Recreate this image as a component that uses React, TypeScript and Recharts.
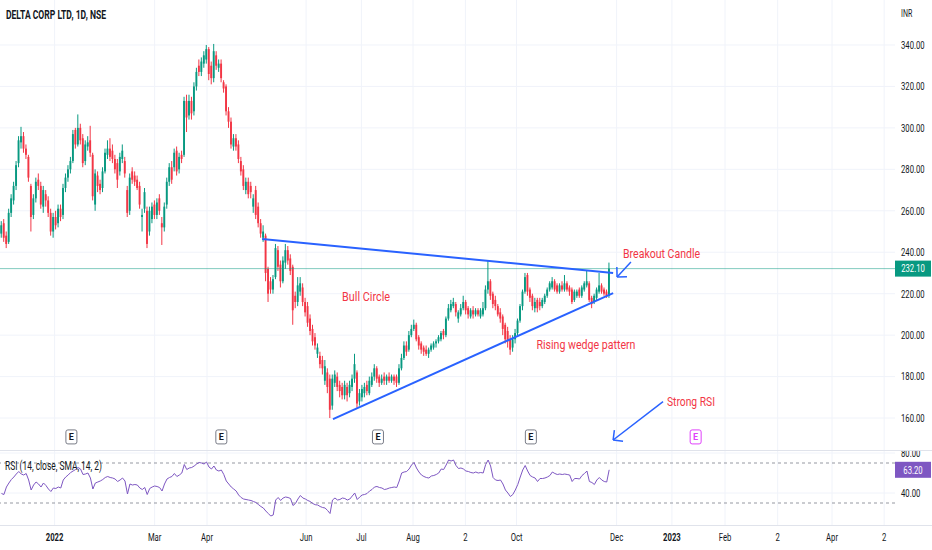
import React from 'react';
import {
  ComposedChart, LineChart, Bar, Line, XAxis, YAxis, CartesianGrid,
  ReferenceLine, ReferenceDot,
} from 'recharts';

// daily candles, [open, high, low, close]
const candles: [number, number, number, number][] = [
  [249, 255, 247, 253], [254, 256, 245, 247], [248, 250, 242, 244], [245, 261, 244, 259], [259, 268, 257, 266],
  [265, 274, 263, 272], [272, 284, 270, 282], [283, 296, 281, 294], [293, 300.5, 290, 296], [296, 298, 288, 290],
  [290, 292, 285, 287], [286, 287, 274, 276], [272, 273, 250, 257], [258, 268, 256, 266], [266, 276, 264, 274],
  [275, 278, 270, 272], [272, 274, 261, 263], [262, 272, 259, 270], [268, 270, 262, 265], [265, 267, 257, 259],
  [259, 261, 248, 250], [250, 259, 247, 257], [257, 260, 251, 253], [254, 263, 252, 261], [261, 263, 255, 257],
  [258, 273, 256, 271], [271, 278, 269, 276], [276, 282, 274, 280], [280, 286, 278, 284], [284, 299, 283, 297],
  [299, 300, 290, 292], [292, 306.5, 291, 300], [300, 302, 292, 294], [295, 297, 281, 283], [284, 294, 282, 292],
  [291, 296, 289, 293], [294, 301, 286, 288], [287, 288, 265, 267], [263, 280, 260, 278], [277, 279, 269, 272],
  [273, 275, 268, 270], [271, 281, 269, 279], [279, 290, 278, 288], [287, 294, 285, 290], [290, 295, 284, 286],
  [289, 292, 283, 285], [285, 287, 278, 280], [283, 285, 271, 275], [279, 288, 277, 286], [285, 292, 283, 289],
  [284, 286, 276, 278], [270, 272, 257, 259], [260, 278, 258, 276], [279, 281, 273, 275], [277, 279, 272, 274],
  [275, 277, 270, 271], [272, 274, 261, 263], [257, 261, 250, 258], [261, 271, 259, 269], [260, 262, 242, 244],
  [250, 262, 248, 260], [256, 264, 254, 262], [263, 265, 256, 258], [258, 266, 256, 264], [266, 268, 258, 260],
  [254, 257, 243.5, 252], [252, 264, 250, 262], [263, 276, 261, 274], [274, 283, 272, 281], [281, 284, 273, 275],
  [281, 290, 279, 288], [289, 291, 277, 279], [280, 288, 278, 286], [287, 289, 283, 285], [287, 315, 286, 313],
  [313, 316, 298, 305], [306, 316, 304, 313], [313, 315, 304, 307], [308, 322, 306, 320], [320, 329, 318, 327],
  [330, 333, 325, 327], [327, 334, 325, 332], [331, 337, 329, 335], [333, 340, 331, 338], [338, 339, 323, 326],
  [330, 332, 321, 324], [324, 340.5, 322, 337], [335, 337, 328, 330], [329, 333, 327, 331], [331, 333, 322, 324],
  [322, 323, 317, 319], [320, 321, 306, 308], [308, 310, 300, 303], [303, 305, 290, 292], [291, 297, 289, 295],
  [295, 297, 289, 291], [292, 294, 283, 285], [284, 286, 277, 279], [280, 282, 270, 272], [270, 276, 268, 274],
  [274, 276, 266, 268], [272, 274, 266, 269], [262, 268, 259, 266], [270, 272, 256, 258], [262, 264, 252, 254],
  [254, 256, 247, 249], [247, 253, 245, 250], [248, 249, 226, 230], [232, 233, 216, 220], [226, 228, 220, 222],
  [222, 229, 220, 227], [228, 244, 227, 242], [241, 243, 231, 233], [234, 236, 223, 226], [226, 238, 225, 236],
  [235, 244, 232, 241], [241, 243, 234, 236], [237, 239, 229, 231], [233, 234, 205, 212], [219, 221, 213, 216],
  [216, 228, 214, 224], [221, 228, 219, 225], [223, 225, 214, 216], [216, 218, 209, 211], [214, 216, 204, 206],
  [208, 210, 200, 202], [203, 205, 195, 197], [199, 201, 193, 195], [191, 196, 189, 194], [190, 192, 184, 186],
  [188, 190, 181, 184], [178, 188, 176, 185], [182, 184, 172, 175], [179, 181, 160, 164], [166, 181, 164, 179],
  [177, 183, 175, 181], [180, 182, 173, 175], [176, 178, 170, 173], [175, 177, 169, 171], [171, 178, 169, 176],
  [175, 177, 168, 171], [172, 178, 170, 176], [175, 181, 173, 179], [179, 191, 177, 186], [182, 183, 165, 167],
  [168, 174, 166, 172], [170, 176, 168, 174], [172, 177, 170, 175], [176, 178, 171, 173], [172, 180, 171, 178],
  [176, 182, 175, 180], [180, 186, 178, 184], [184, 185, 177, 179], [180, 181, 175, 177], [177, 181, 176, 179],
  [180, 182, 176, 178], [178, 181, 176, 180], [180, 182, 177, 178], [178, 181, 177, 180], [180, 181, 176, 178],
  [180, 181, 175, 177], [177, 186, 176, 184], [184, 191, 183, 189], [189, 197, 188, 195], [195, 197, 190, 192],
  [193, 202, 192, 200], [200, 205, 199, 203], [203, 207.5, 202, 205], [205, 206, 197, 198], [199, 200, 193, 195],
  [196, 197, 191, 193], [194, 195, 190, 192], [193, 195, 190, 191], [191, 194, 189, 193], [193, 196, 192, 195],
  [194, 197, 193, 196], [196, 198, 194, 197], [197, 200, 196, 199], [198, 202, 197, 201], [202, 203, 198, 200],
  [200, 209, 199, 208], [208, 215, 207, 213], [212, 217, 211, 215], [214, 218, 213, 216], [215, 216, 209, 211],
  [208, 212, 206, 211], [210, 215, 209, 213], [213, 219, 212, 216], [216, 217, 210, 212], [213, 214, 208, 210],
  [209, 213, 208, 212], [212, 214, 208, 210], [210, 213, 209, 212], [212, 213, 209, 210], [209, 213, 208, 212],
  [210, 216, 209, 213], [213, 224, 212, 222], [222, 236, 220, 226], [226, 227, 217, 219], [220, 221, 213, 215],
  [217, 219, 212, 214], [214, 215, 209, 210], [211, 213, 206, 208], [209, 210, 200, 203], [205, 206, 196, 198],
  [202, 204, 194, 197], [198, 200, 190.5, 193], [194, 200, 192, 198], [198, 203, 196, 201], [201, 208, 200, 207],
  [207, 215, 206, 214], [214, 222, 212, 221], [221, 230, 220, 228], [229, 230, 219, 221], [222, 223, 216, 218],
  [219, 220, 212, 214], [213, 218, 211, 216], [217, 218, 211, 213], [216, 218, 212, 214], [214, 218, 213, 217],
  [216, 220, 215, 219], [219, 223, 218, 222], [222, 226, 221, 225], [223, 228, 222, 226], [226, 227, 221, 222],
  [224, 225, 220, 221], [221, 225, 220, 224], [224, 226, 221, 222], [222, 229, 221, 225], [225, 226, 221, 222],
  [223, 224, 219, 221], [222, 223, 215, 216], [217, 222, 216, 221], [219, 222, 218, 221], [222, 223, 218, 219],
  [219, 224, 218, 223], [222, 226, 221, 225], [224, 231, 223, 226], [225, 226, 216, 217], [218, 219, 213, 215],
  [216, 220, 215, 219], [218, 223, 217, 222], [221, 230, 220, 224], [224, 225, 220, 221], [222, 223, 219, 220],
  [221, 222, 218, 219], [219, 235, 218, 232.1],
];

const rsiValues = [
  39.5, 38.5, 46, 50, 53.5, 56, 59, 61.5, 59, 58,
  59.5, 53, 43, 48, 51, 49, 46, 50, 47.5, 44,
  41.5, 45, 44.5, 46, 45, 53, 56, 58, 60.5, 62,
  63.5, 65.5, 64, 58.5, 59, 60, 55, 44, 50, 51,
  52, 53.5, 55.5, 56.5, 55.5, 55, 54, 51.5, 53, 55,
  52, 39, 49, 48, 48.5, 48, 45, 43.5, 45.5, 38.5,
  44.5, 46, 47, 46.5, 45.5, 42, 49, 54, 55.5, 56.5,
  59.5, 56.5, 58, 60, 68.5, 63.5, 65, 65.5, 67, 69,
  70.5, 70, 69, 71, 66, 64, 67, 63, 62, 63,
  58.5, 52, 49, 46, 44, 42, 38, 35.5, 34, 33.5,
  33, 32.5, 31.5, 30.5, 28.5, 26.5, 25, 22, 19.5, 17,
  18, 33, 35.5, 32.5, 35, 36, 35.5, 34.5, 27.5, 29.5,
  34, 37.5, 35, 34, 32.5, 31.5, 29.5, 28.3, 28, 26.5,
  25.5, 25, 22.5, 19.5, 33, 35, 33, 33.5, 35, 34.5,
  33, 34, 37, 40, 33.5, 36, 38, 38.5, 39.5, 42,
  43.5, 46, 46.5, 45.5, 45, 43.5, 44, 45, 45.5, 46,
  45.5, 52, 60, 61, 61.5, 64, 68, 70.5, 65, 61,
  58, 56.5, 55.5, 55, 57, 57.5, 58.5, 60, 64, 63.5,
  68, 73, 72, 73, 67.5, 64.5, 65, 64, 62, 61.5,
  60.5, 60, 61, 60, 60.5, 60, 68.5, 73, 67, 55.5,
  53, 52.5, 53, 49, 43, 40, 36.5, 38.5, 43, 48.5,
  56, 63, 67.5, 62, 57.5, 56, 55, 51.5, 54.5, 54.5,
  55, 56, 57.5, 61, 59.5, 58.5, 59, 58.5, 59, 58.5,
  58, 51.5, 54.5, 54.5, 54, 57.5, 59.5, 62, 51.5, 50.5,
  48.5, 53, 55.5, 53, 51.5, 51, 63.2,
];

// time axis (bar index of each label)
const tickIdx = [21.5, 62, 83.2, 123.3, 145.7, 166.6, 187.8, 208.5, 249, 271.4, 292.9, 314.2, 336.2, 357.3];
const tickLabels = ['2022', 'Mar', 'Apr', 'Jun', 'Jul', 'Aug', '2', 'Oct', 'Dec', '2023', 'Feb', '2', 'Apr', '2'];
const priceTicks = [160, 180, 200, 220, 240, 260, 280, 300, 320, 340];
const rsiTicks = [40, 80];
const lastClose = 232.1;
const lastRsi = 63.2;

// earnings markers: bar index, future one is highlighted
const earningsIdx = [28.3, 89, 152.4, 214.3];
const nextEarningsIdx = 281;

// drawings, in (bar index, price)
const trendLines = [
  [[105.5, 246.4], [247.6, 230.0]],
  [[134.2, 159.5], [247.6, 220.3]],
];
const arrows = [
  { tail: [254.8, 235.3], tip: [249.2, 228.1], w1: [253.2, 228.2], w2: [249.1, 232.9] },
  { tail: [267.8, 167.9], tip: [247.6, 149.4], w1: [251.6, 148.8], w2: [248.1, 154.2] },
];
const notes = [
  { text: 'Bull Circle', at: [147.6, 218.9], len: 48 },
  { text: 'Rising wedge pattern', at: [236.6, 195.7], len: 99 },
  { text: 'Breakout Candle', at: [267.2, 239.6], len: 77 },
  { text: 'Strong RSI', at: [279.1, 168.2], len: 48 },
];

const GREEN = '#089981';
const RED = '#f23645';
const BLUE = '#2962ff';
const PURPLE = '#7e57c2';
const GRID = '#f0f3fa';
const TEXT = '#131722';
const FONT = "Roboto, 'Noto Sans', sans-serif";
const SQUISH = 0.7; // the screenshot text is narrow
const X_DOMAIN: [number, number] = [-0.6, 361.7];

const Candle = (props: any) => {
  const { x, y, width, height, payload } = props;
  const { o, h, l, c } = payload;
  const top = Math.min(y, y + height);
  const hh = Math.abs(height);
  const color = c >= o ? GREEN : RED;
  const cx = x + width / 2;
  const k = h === l ? 0 : hh / (h - l);
  const bTop = top + (h - Math.max(o, c)) * k;
  const bBot = top + (h - Math.min(o, c)) * k;
  return (
    <g>
      <line x1={cx} x2={cx} y1={top} y2={top + hh} stroke={color} strokeWidth={1} />
      <rect x={cx - 0.95} y={bTop} width={1.9} height={Math.max(1, bBot - bTop)} fill={color} />
    </g>
  );
};

// narrow text, scaled about its anchor point
const NarrowText = ({ x, y, anchor = 'start', size = 11, weight = 400, fill = TEXT, children }: any) => (
  <text transform={`translate(${x} ${y}) scale(${SQUISH} 1)`} dy="0.35em" textAnchor={anchor}
    fontSize={size} fontWeight={weight} fill={fill} fontFamily={FONT}>{children}</text>
);

const AxisTick = ({ x, y, payload, mark, markColor }: any) => {
  const v = payload.value;
  if (v === mark) {
    return (
      <g>
        <rect x={x - 6} y={y - 8} width={36} height={16} fill={markColor} />
        <NarrowText x={x + 12} y={y} anchor="middle" fill="#fff">{v.toFixed(2)}</NarrowText>
      </g>
    );
  }
  return <NarrowText x={x} y={y}>{v.toFixed(2)}</NarrowText>;
};

const TimeTick = ({ x, y, payload }: any) => {
  const label = tickLabels[tickIdx.indexOf(payload.value)] ?? '';
  const bold = /^\d{4}$/.test(label);
  return <NarrowText x={x} y={y + 4} anchor="middle" weight={bold ? 700 : 400}>{label}</NarrowText>;
};

const EMarker = ({ cx, cy, color }: any) => (
  <g>
    <rect x={cx - 5.5} y={cy - 7} width={11} height={14} rx={2} fill="#fff" stroke={color} strokeWidth={1} />
    <text x={cx} y={cy} dy="0.36em" textAnchor="middle" fontSize={9} fill={color === '#e040fb' ? color : TEXT}
      fontFamily={FONT} fontWeight={700}>E</text>
  </g>
);

export default function App() {
  const priceData = candles.map(([o, h, l, c], i) => ({ i, o, h, l, c, range: [l, h] }));
  const rsiData = rsiValues.map((v, i) => ({ i, rsi: v }));
  const markerPrice = 150.9;

  return (
    <div style={{ position: 'absolute', left: 0, top: 0, width: 932, height: 550, background: '#fff', overflow: 'hidden' }}>
      <div style={{ position: 'absolute', left: 0, top: 0, height: 451, overflow: 'hidden' }}>
        <ComposedChart width={932} height={451} data={priceData} margin={{ top: 0, right: 0, bottom: 0, left: 0 }}>
          <CartesianGrid stroke={GRID} horizontalValues={priceTicks} verticalValues={tickIdx} />
          <XAxis type="number" dataKey="i" domain={X_DOMAIN} hide allowDataOverflow />
          <YAxis orientation="right" width={37} domain={[144.1, 361.7]} allowDataOverflow
            ticks={[...priceTicks, lastClose]} interval={0} tickLine={false} axisLine={false}
            tickSize={0} tickMargin={6}
            tick={(p: any) => <AxisTick {...p} mark={lastClose} markColor={GREEN} />} />
          <ReferenceLine y={lastClose} stroke={GREEN} strokeOpacity={0.5} />
          <Bar dataKey="range" barSize={2} isAnimationActive={false} shape={(p: any) => <Candle {...p} />} />
          {trendLines.map((s, k) => (
            <ReferenceLine key={'t' + k} segment={[{ x: s[0][0], y: s[0][1] }, { x: s[1][0], y: s[1][1] }]}
              stroke={BLUE} strokeWidth={2} />
          ))}
          {arrows.flatMap((a, k) => [a.tail, a.w1, a.w2].map((p, j) => (
            <ReferenceLine key={'a' + k + j} segment={[{ x: p[0], y: p[1] }, { x: a.tip[0], y: a.tip[1] }]}
              stroke={BLUE} strokeWidth={1.5} />
          )))}
          {notes.map((n) => (
            <ReferenceDot key={n.text} x={n.at[0]} y={n.at[1]} r={0}
              shape={(p: any) => (
                <text x={p.cx} y={p.cy} dy="0.35em" textAnchor="middle" fill={RED} fontSize={13}
                  fontFamily={FONT} textLength={n.len} lengthAdjust="spacingAndGlyphs">{n.text}</text>
              )} />
          ))}
          {earningsIdx.map((e) => (
            <ReferenceDot key={'e' + e} x={e} y={markerPrice} r={0}
              shape={(p: any) => <EMarker cx={p.cx} cy={p.cy} color="#787b86" />} />
          ))}
          <ReferenceDot x={nextEarningsIdx} y={markerPrice} r={0}
            shape={(p: any) => <EMarker cx={p.cx} cy={p.cy} color="#e040fb" />} />
        </ComposedChart>
      </div>

      <div style={{ position: 'absolute', left: 0, top: 451, height: 99, overflow: 'hidden' }}>
        <LineChart width={932} height={99} data={rsiData} margin={{ top: 0, right: 0, bottom: 0, left: 0 }}>
          <CartesianGrid stroke={GRID} horizontalValues={rsiTicks} verticalValues={tickIdx} />
          <XAxis type="number" dataKey="i" domain={X_DOMAIN} allowDataOverflow ticks={tickIdx} interval={0}
            height={25} tickLine={false} axisLine={false} tick={(p: any) => <TimeTick {...p} />} />
          <YAxis orientation="right" width={37} domain={[8, 82]} allowDataOverflow
            ticks={[...rsiTicks, lastRsi]} interval={0} tickLine={false} axisLine={false}
            tickSize={0} tickMargin={6}
            tick={(p: any) => <AxisTick {...p} mark={lastRsi} markColor={PURPLE} />} />
          <ReferenceLine y={70} stroke="#9598a1" strokeDasharray="3 3" />
          <ReferenceLine y={30} stroke="#9598a1" strokeDasharray="3 3" />
          <Line type="linear" dataKey="rsi" stroke={PURPLE} strokeWidth={1} dot={false} isAnimationActive={false} />
        </LineChart>
      </div>

      <div style={{ position: 'absolute', left: 0, top: 450, width: 932, height: 1, background: '#e0e3eb' }} />
      <div style={{ position: 'absolute', left: 0, top: 525, width: 932, height: 1, background: '#e0e3eb' }} />

      <svg width={932} height={550} style={{ position: 'absolute', left: 0, top: 0, pointerEvents: 'none' }}>
        <text x={6} y={15} dy="0.35em" fontSize={12} fontWeight={700} fill={TEXT} fontFamily={FONT}
          textLength={100} lengthAdjust="spacingAndGlyphs">DELTA CORP LTD, 1D, NSE</text>
        <NarrowText x={901} y={13} size={10}>INR</NarrowText>
        <text x={5} y={466} dy="0.35em" fontSize={12} fill={TEXT} fontFamily={FONT}
          textLength={97} lengthAdjust="spacingAndGlyphs">RSI (14, close, SMA, 14, 2)</text>
      </svg>
    </div>
  );
}
